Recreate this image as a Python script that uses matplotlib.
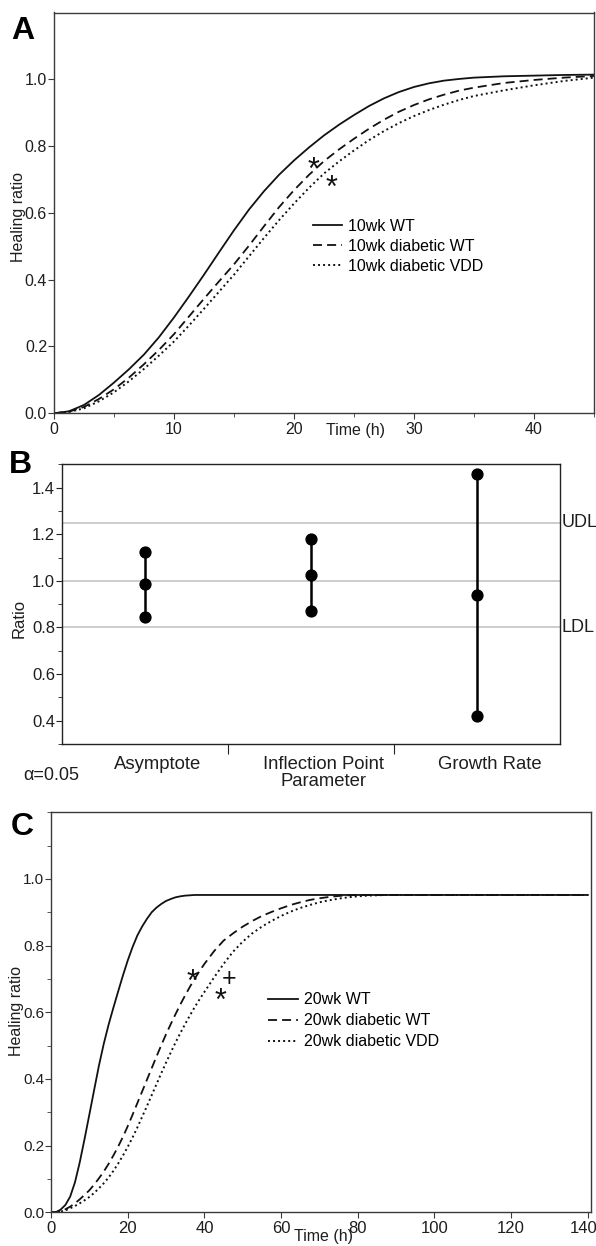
# Healing curves (A, C) and ratio intervals (B)
import matplotlib
matplotlib.use('Agg')
import matplotlib.pyplot as plt
import matplotlib.transforms as mtransforms
from matplotlib.ticker import MultipleLocator

plt.rcParams['font.family'] = ['Liberation Sans', 'DejaVu Sans']

# panel A: 10 week animals
time_a = [0, 1.25, 2.5, 3.75, 5, 6.25, 7.5, 8.75, 10, 11.25, 12.5, 13.75,
          15, 16.25, 17.5, 18.75, 20, 21.25, 22.5, 23.75, 25, 26.25, 27.5,
          28.75, 30, 31.25, 32.5, 33.75, 35, 37.5, 40, 42.5, 45]
wt_10 = [0.0, 0.006, 0.025, 0.055, 0.092, 0.132, 0.176, 0.228, 0.287,
         0.35, 0.415, 0.482, 0.548, 0.61, 0.665, 0.714, 0.757, 0.796,
         0.832, 0.864, 0.893, 0.92, 0.943, 0.962, 0.977, 0.988, 0.996,
         1.001, 1.005, 1.009, 1.011, 1.013, 1.014]
dwt_10 = [0.0, 0.005, 0.019, 0.043, 0.072, 0.107, 0.147, 0.19, 0.237,
          0.29, 0.343, 0.395, 0.446, 0.502, 0.56, 0.617, 0.668, 0.714,
          0.755, 0.79, 0.822, 0.852, 0.879, 0.903, 0.923, 0.94, 0.954,
          0.966, 0.975, 0.989, 0.998, 1.005, 1.01]
vdd_10 = [0.0, 0.004, 0.015, 0.036, 0.063, 0.096, 0.133, 0.173, 0.215,
          0.263, 0.313, 0.364, 0.415, 0.47, 0.525, 0.578, 0.628, 0.675,
          0.718, 0.754, 0.787, 0.818, 0.845, 0.869, 0.89, 0.908, 0.924,
          0.938, 0.95, 0.967, 0.982, 0.995, 1.005]
labels_a = ['10wk WT', '10wk diabetic WT', '10wk diabetic VDD']

# panel B: ratio with interval (upper, estimate, lower)
params = ['Asymptote', 'Inflection Point\nParameter', 'Growth Rate']
ratio_hi = [1.125, 1.18, 1.46]
ratio_mid = [0.985, 1.025, 0.94]
ratio_lo = [0.845, 0.87, 0.42]
udl = 1.25
ldl = 0.8

# panel C: 20 week animals
time_c = [0, 1.25, 2.5, 3.75, 5, 6.25, 7.5, 8.75, 10, 11.25, 12.5, 13.75,
          15, 16.25, 17.5, 18.75, 20, 21.25, 22.5, 23.75, 25, 26.25, 27.5,
          28.75, 30, 31.25, 32.5, 33.75, 35, 36.25, 37.5, 38.75, 40,
          42.5, 45, 47.5, 50, 52.5, 55, 57.5, 60, 62.5, 65, 67.5, 70, 72.5,
          75, 77.5, 80, 82.5, 85, 87.5, 90,
          95, 100, 105, 110, 115, 120, 125, 130, 135, 140]
wt_20 = [0.0, 0.0, 0.008, 0.022, 0.047, 0.09, 0.15, 0.22, 0.293, 0.367,
         0.44, 0.505, 0.562, 0.613, 0.662, 0.71, 0.755, 0.795, 0.83, 0.857,
         0.88, 0.9, 0.914, 0.925, 0.934, 0.94, 0.945, 0.948, 0.95, 0.951,
         0.952, 0.952, 0.952,
         0.952, 0.952, 0.952, 0.952, 0.952, 0.952, 0.952, 0.952, 0.952,
         0.952, 0.952, 0.952, 0.952, 0.952, 0.952, 0.952, 0.952, 0.952,
         0.952, 0.952,
         0.952, 0.952, 0.952, 0.952, 0.952, 0.952, 0.952, 0.952, 0.952,
         0.952]
dwt_20 = [0.0, 0.001, 0.004, 0.009, 0.017, 0.027, 0.039, 0.052, 0.066,
          0.083, 0.102, 0.122, 0.145, 0.17, 0.197, 0.226, 0.258, 0.292,
          0.327, 0.362, 0.397, 0.432, 0.467, 0.501, 0.534, 0.565, 0.595,
          0.624, 0.651, 0.677, 0.701, 0.724, 0.745,
          0.783, 0.815, 0.837, 0.857, 0.874, 0.889, 0.901, 0.912, 0.922,
          0.93, 0.937, 0.942, 0.946, 0.949, 0.951, 0.952, 0.952, 0.952,
          0.952, 0.952,
          0.952, 0.952, 0.952, 0.952, 0.952, 0.952, 0.952, 0.952, 0.952,
          0.952]
vdd_20 = [0.0, 0.0, 0.002, 0.006, 0.012, 0.019, 0.027, 0.036, 0.046,
          0.058, 0.072, 0.087, 0.104, 0.124, 0.146, 0.17, 0.196, 0.224,
          0.254, 0.286, 0.318, 0.351, 0.384, 0.417, 0.449, 0.48, 0.51,
          0.538, 0.565, 0.591, 0.616, 0.639, 0.661,
          0.704, 0.745, 0.782, 0.812, 0.837, 0.857, 0.874, 0.889, 0.902,
          0.913, 0.922, 0.93, 0.936, 0.941, 0.945, 0.948, 0.95, 0.951,
          0.952, 0.952,
          0.952, 0.952, 0.952, 0.952, 0.952, 0.952, 0.952, 0.952, 0.952,
          0.952]
labels_c = ['20wk WT', '20wk diabetic WT', '20wk diabetic VDD']

W, H = 596, 1246
TXT = '#1e1e1e'
fig = plt.figure(figsize=(W / 100, H / 100), dpi=100)


def box(left, top, right, bottom):
    # pixel box -> figure fraction
    return [left / W, 1 - bottom / H, (right - left) / W, (bottom - top) / H]


def style_axes(ax, color='#3a3a3a', size=11.5):
    for s in ax.spines.values():
        s.set_color(color)
        s.set_linewidth(1.0)
    ax.tick_params(colors=color, labelcolor=TXT, labelsize=size,
                   length=4, width=0.8)


def curves(ax, t, a, b, c, names):
    ax.plot(t, a, color='#111111', lw=1.3, label=names[0])
    ax.plot(t, b, color='#111111', lw=1.3, dashes=(5, 2.8), label=names[1])
    ax.plot(t, c, color='#111111', lw=1.4, dashes=(1, 1.6), label=names[2])


def mark(ax, x, y, s, size, lift):
    # symbol centred visually on (x, y)
    ax.annotate(s, xy=(x, y), xytext=(0, -lift * size),
                textcoords='offset points', ha='center', va='baseline',
                fontsize=size, color='#111111')


# ---- A ----
axA = fig.add_axes(box(54, 12.5, 594, 413.3))
curves(axA, time_a, wt_10, dwt_10, vdd_10, labels_a)
axA.set_xlim(0, 45)
axA.set_ylim(0, 1.2)
axA.set_yticks([0.0, 0.2, 0.4, 0.6, 0.8, 1.0])
axA.set_yticklabels(['0.0', '0.2', '0.4', '0.6', '0.8', '1.0'])
axA.set_xticks([0, 10, 20, 30, 40])
axA.xaxis.set_minor_locator(MultipleLocator(5))
style_axes(axA)
axA.tick_params(which='minor', length=3, color='#3a3a3a')
axA.tick_params(axis='y', pad=1)
axA.tick_params(axis='x', pad=2)
mark(axA, 21.6, 0.754, '*', 22, 0.56)
mark(axA, 23.1, 0.70, '*', 22, 0.56)
axA.legend(loc='upper left', bbox_to_anchor=(0.479, 0.486), frameon=False,
           fontsize=11.5, handlelength=1.85, handletextpad=0.35,
           labelspacing=0.33, borderaxespad=0, borderpad=0)
fig.text(19 / W, 1 - 217 / H, 'Healing ratio', rotation=90, fontsize=11.5,
         ha='center', va='center', color=TXT)
fig.text(356 / W, 1 - 431 / H, 'Time (h)', fontsize=11.5,
         ha='center', va='center', color=TXT)
fig.text(11 / W, 1 - 39 / H, 'A', fontsize=23, fontweight='bold',
         ha='left', va='baseline')

# ---- B ----
axB = fig.add_axes(box(62, 464.3, 560, 744))
for y in [udl, 1.0, ldl]:
    axB.axhline(y, color='#c8c8c8', lw=1.3, zorder=1)
for i in range(len(params)):
    axB.plot([i, i, i], [ratio_lo[i], ratio_mid[i], ratio_hi[i]],
             color='black', lw=1.8, marker='o', markersize=7.8, zorder=3)
axB.set_xlim(-0.5, 2.5)
axB.set_ylim(0.3, 1.5)
axB.set_yticks([0.4, 0.6, 0.8, 1.0, 1.2, 1.4])
axB.set_yticklabels(['0.4', '0.6', '0.8', '1.0', '1.2', '1.4'])
axB.yaxis.set_minor_locator(MultipleLocator(0.1))
axB.set_xticks([0.5, 1.5])
axB.set_xticklabels(['', ''])
style_axes(axB, color='#222222', size=12)
axB.tick_params(axis='x', length=7)
axB.tick_params(axis='y', which='minor', length=3, color='#222222')
axB.tick_params(axis='y', pad=1)
for i, p in enumerate(params):
    axB.text(i + 0.075, 0.25, p, fontsize=13.3, ha='center', va='top',
             linespacing=1.05, color=TXT)
axB.text(1.004, (udl - 0.3) / 1.2, 'UDL', transform=axB.transAxes,
         fontsize=13, ha='left', va='center', color=TXT)
axB.text(1.004, (ldl - 0.3) / 1.2, 'LDL', transform=axB.transAxes,
         fontsize=13, ha='left', va='center', color=TXT)
fig.text(51 / W, 1 - 775 / H, '\u03b1=0.05', fontsize=13,
         ha='center', va='center', color=TXT)
fig.text(19 / W, 1 - 618 / H, 'Ratio', rotation=90, fontsize=12,
         ha='center', va='center', color=TXT)
fig.text(9 / W, 1 - 473 / H, 'B', fontsize=23, fontweight='bold',
         ha='left', va='baseline')

# ---- C ----
axC = fig.add_axes(box(51, 812.3, 590.5, 1212.3))
curves(axC, time_c, wt_20, dwt_20, vdd_20, labels_c)
axC.set_xlim(0, 140.7)
axC.set_ylim(0, 1.2)
axC.set_yticks([0.0, 0.2, 0.4, 0.6, 0.8, 1.0])
axC.set_yticklabels(['0.0', '0.2', '0.4', '0.6', '0.8', '1.0'])
axC.yaxis.set_minor_locator(MultipleLocator(0.1))
axC.set_xticks([0, 20, 40, 60, 80, 100, 120, 140])
style_axes(axC)
axC.tick_params(axis='y', which='minor', length=3, color='#3a3a3a')
axC.tick_params(axis='y', pad=1, labelsize=11)
axC.tick_params(axis='x', pad=2, labelsize=12)
last = axC.get_xticklabels()[-1]
last.set_transform(last.get_transform() +
                   mtransforms.ScaledTranslation(-4 / 100, 0,
                                                 fig.dpi_scale_trans))
mark(axC, 37.0, 0.717, '*', 22, 0.56)
mark(axC, 44.1, 0.66, '*', 22, 0.56)
mark(axC, 46.5, 0.705, '+', 18, 0.34)
axC.legend(loc='upper left', bbox_to_anchor=(0.403, 0.55), frameon=False,
           fontsize=11.5, handlelength=1.85, handletextpad=0.35,
           labelspacing=0.38, borderaxespad=0, borderpad=0)
fig.text(17 / W, 1 - 1011 / H, 'Healing ratio', rotation=90, fontsize=11.5,
         ha='center', va='center', color=TXT)
fig.text(323 / W, 1 - 1237 / H, 'Time (h)', fontsize=11.5,
         ha='center', va='center', color=TXT)
fig.text(11 / W, 1 - 835 / H, 'C', fontsize=23, fontweight='bold',
         ha='left', va='baseline')

fig.savefig('out.png', dpi=100)
